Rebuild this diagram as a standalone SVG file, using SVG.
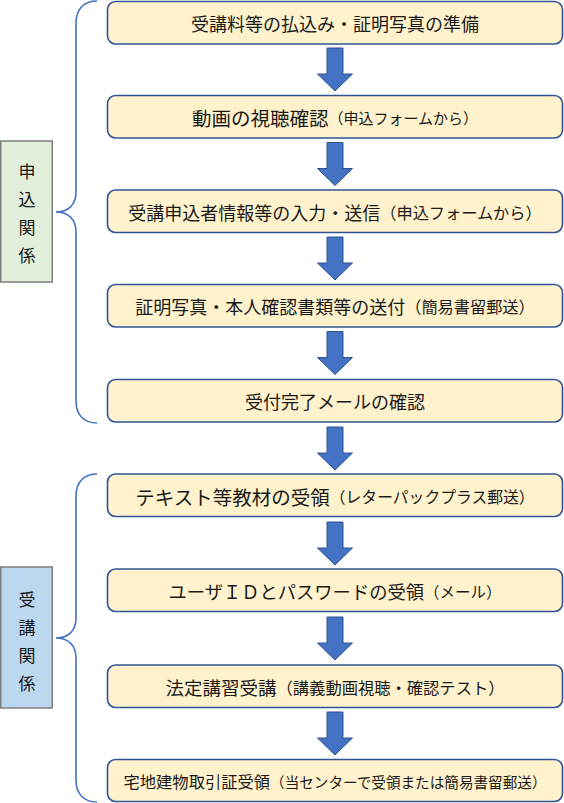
<svg xmlns="http://www.w3.org/2000/svg" width="564" height="803" viewBox="0 0 564 803">
<style>
.box{fill:#FFF2CC;stroke:#2F5597;stroke-width:1.6}
.lbl{stroke:#7F7F7F;stroke-width:1.5}
.t{font-family:"Noto Sans CJK JP","Noto Sans CJK SC",sans-serif;fill:#1a1a1a;dominant-baseline:central;text-anchor:middle}
.m{font-size:18px}
.p{font-size:15.8px}
.lt{font-family:"Noto Sans CJK JP",sans-serif;fill:#1a1a1a;font-size:17px;dominant-baseline:central;text-anchor:middle}
.arrow{fill:#4472C4;stroke:#2F528F;stroke-width:1}
.brace{fill:none;stroke:#4472C4;stroke-width:1.6}
</style>
<defs>
<path id="arr" d="M-8 0 H8 V26 H17.5 L0 43 L-17.5 26 H-8 Z"/>
</defs>
<rect width="564" height="803" fill="#ffffff"/>
<g id="label-apply">
<rect class="lbl" x="0.75" y="141" width="51.5" height="141" fill="#E2EFDA"/>
<text class="lt" x="27" y="170">申</text>
<text class="lt" x="27" y="198">込</text>
<text class="lt" x="27" y="226">関</text>
<text class="lt" x="27" y="254">係</text>
</g>
<g id="label-course">
<rect class="lbl" x="0.75" y="567" width="51.5" height="141" fill="#BDD7EE"/>
<text class="lt" x="27" y="598">受</text>
<text class="lt" x="27" y="626">講</text>
<text class="lt" x="27" y="654">関</text>
<text class="lt" x="27" y="682">係</text>
</g>
<g id="braces">
<path class="brace" d="M97 1 C84 1 76 9 76 23 L76 192 C76 205 68 212 56 212 C68 212 76 219 76 232 L76 401 C76 415 84 423 97 423"/>
<path class="brace" d="M97 474 C84 474 76 482 76 496 L76 618 C76 631 68 638 56 638 C68 638 76 645 76 658 L76 780 C76 794 84 802 97 802"/>
</g>
<g id="n1"><rect class="box" x="107.5" y="1.5" width="455" height="42.5" rx="8"/>
<text class="t m" x="335" y="23">受講料等の払込み・証明写真の準備</text></g>
<g id="n2"><rect class="box" x="107.5" y="95.5" width="455" height="42.5" rx="8"/>
<text class="t" x="335" y="117"><tspan class="m" style="font-size:19.5px">動画の視聴確認</tspan><tspan class="p" style="font-size:15px">（申込フォームから）</tspan></text></g>
<g id="n3"><rect class="box" x="107.5" y="190" width="455" height="42.5" rx="8"/>
<text class="t" x="335" y="212"><tspan class="m">受講申込者情報等の入力・送信</tspan><tspan class="p" style="font-size:16.2px">（申込フォームから）</tspan></text></g>
<g id="n4"><rect class="box" x="107.5" y="284.5" width="455" height="42.5" rx="8"/>
<text class="t" x="335" y="306"><tspan class="m">証明写真・本人確認書類等の送付</tspan><tspan class="p" style="font-size:16.2px">（簡易書留郵送）</tspan></text></g>
<g id="n5"><rect class="box" x="107.5" y="379.5" width="455" height="42.5" rx="8"/>
<text class="t m" x="335" y="401">受付完了メールの確認</text></g>
<g id="n6"><rect class="box" x="107.5" y="474" width="455" height="42.5" rx="8"/>
<text class="t" x="335" y="496"><tspan class="m" style="font-size:19.5px">テキスト等教材の受領</tspan><tspan class="p">（レターパックプラス郵送）</tspan></text></g>
<g id="n7"><rect class="box" x="107.5" y="569" width="455" height="42.5" rx="8"/>
<text class="t" x="335" y="591"><tspan class="m" style="font-size:18.3px">ユーザＩＤとパスワードの受領</tspan><tspan class="p" style="font-size:15.5px">（メール）</tspan></text></g>
<g id="n8"><rect class="box" x="107.5" y="665" width="455" height="42.5" rx="8"/>
<text class="t" x="335" y="687"><tspan class="m" style="font-size:18.5px">法定講習受講</tspan><tspan class="p" style="font-size:16.3px">（講義動画視聴・確認テスト）</tspan></text></g>
<g id="n9"><rect class="box" x="107.5" y="759.5" width="455" height="42" rx="8"/>
<text class="t" x="335" y="781"><tspan class="m" style="font-size:16.3px">宅地建物取引証受領</tspan><tspan class="p" style="font-size:14.6px">（当センターで受領または簡易書留郵送）</tspan></text></g>
<g id="connectors">
<use href="#arr" class="arrow" x="335" y="48"/>
<use href="#arr" class="arrow" x="335" y="142.5"/>
<use href="#arr" class="arrow" x="335" y="237"/>
<use href="#arr" class="arrow" x="335" y="331.5"/>
<use href="#arr" class="arrow" x="335" y="427"/>
<use href="#arr" class="arrow" x="335" y="522"/>
<use href="#arr" class="arrow" x="335" y="617"/>
<use href="#arr" class="arrow" x="335" y="712"/>
</g>
</svg>
